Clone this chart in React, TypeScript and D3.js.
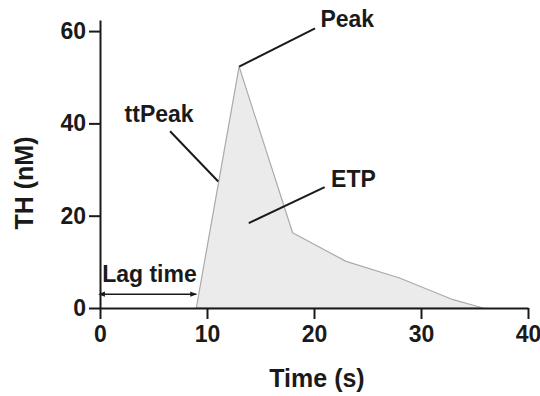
import { useEffect, useRef } from "react";
import * as d3 from "d3";

// thrombin generation curve
const timeS = [9, 13, 18, 23, 28, 33, 35.8];
const thNM = [0, 52.3, 16.3, 10.1, 6.5, 1.8, 0];
const xTicks = [0, 10, 20, 30, 40];
const yTicks = [0, 20, 40, 60];

// annotation anchors in data units: [label x, label y, line from, line to]
const annotations = [
  { text: "Peak", tx: 20.6, ty: 60.8, from: [20.1, 60.6], to: [13, 52.3] },
  { text: "ttPeak", tx: 2.3, ty: 40.3, from: [6.55, 38.3], to: [11.05, 27.4] },
  { text: "ETP", tx: 21.6, ty: 26.2, from: [21.0, 26.2], to: [13.9, 18.4] },
];

const FONT = "Liberation Sans, Arial, Helvetica, sans-serif";
const INK = "#1a1a1a";

export default function App() {
  const svgRef = useRef<SVGSVGElement>(null);

  useEffect(() => {
    if (!svgRef.current) return;
    const svg = d3.select(svgRef.current);
    svg.selectAll("*").remove();

    const x = d3.scaleLinear().domain([0, 40]).range([100, 528]);
    const y = d3.scaleLinear().domain([0, 62.4]).range([308, 20]);

    const defs = svg.append("defs");
    ["start", "end"].forEach((k) => {
      defs.append("marker")
        .attr("id", "arrow-" + k)
        .attr("viewBox", "0 0 10 10")
        .attr("refX", k === "end" ? 9 : 1)
        .attr("refY", 5)
        .attr("markerWidth", 4.5)
        .attr("markerHeight", 4.5)
        .attr("orient", "auto-start-reverse")
        .append("path")
        .attr("d", "M0,1 L10,5 L0,9 z")
        .attr("fill", INK);
    });

    // area under curve
    const pts = timeS.map((t, i) => [t, thNM[i]] as [number, number]);
    const area = d3.area<[number, number]>()
      .x((d) => x(d[0]))
      .y0(y(0))
      .y1((d) => y(d[1]));
    svg.append("path")
      .datum(pts)
      .attr("d", area)
      .attr("fill", "#ebebeb")
      .attr("stroke", "#aaaaaa")
      .attr("stroke-width", 1.2)
      .attr("stroke-linejoin", "round");

    // axes
    const styleAxis = (g: any) => {
      g.select(".domain").attr("stroke", INK).attr("stroke-width", 2);
      g.selectAll(".tick line").attr("stroke", INK).attr("stroke-width", 2);
      g.selectAll(".tick text")
        .attr("fill", INK)
        .attr("font-size", "23px")
        .attr("font-weight", "bold")
        .attr("font-family", FONT);
    };

    svg.append("g")
      .attr("transform", `translate(0,${y(0)})`)
      .call(d3.axisBottom(x).tickValues(xTicks).tickSize(11).tickSizeOuter(0).tickPadding(7).tickFormat(d3.format("d")))
      .call(styleAxis);

    svg.append("g")
      .attr("transform", `translate(${x(0)},0)`)
      .call(d3.axisLeft(y).tickValues(yTicks).tickSize(11).tickSizeOuter(0).tickPadding(3).tickFormat(d3.format("d")))
      .call(styleAxis);

    // annotations
    annotations.forEach((a) => {
      svg.append("line")
        .attr("x1", x(a.from[0])).attr("y1", y(a.from[1]))
        .attr("x2", x(a.to[0])).attr("y2", y(a.to[1]))
        .attr("stroke", INK)
        .attr("stroke-width", 2);
      svg.append("text")
        .attr("x", x(a.tx))
        .attr("y", y(a.ty))
        .attr("fill", INK)
        .attr("font-size", "23px")
        .attr("font-weight", "bold")
        .attr("font-family", FONT)
        .text(a.text);
    });

    // lag time arrow
    svg.append("line")
      .attr("x1", x(0.4)).attr("y1", y(3))
      .attr("x2", x(9)).attr("y2", y(3))
      .attr("stroke", INK)
      .attr("stroke-width", 1.5)
      .attr("marker-start", "url(#arrow-start)")
      .attr("marker-end", "url(#arrow-end)");
    svg.append("text")
      .attr("x", x(0.2))
      .attr("y", y(5.6))
      .attr("fill", INK)
      .attr("font-size", "23px")
      .attr("font-weight", "bold")
      .attr("font-family", FONT)
      .text("Lag time");

    // axis titles
    svg.append("text")
      .attr("x", 317)
      .attr("y", 387)
      .attr("text-anchor", "middle")
      .attr("fill", INK)
      .attr("font-size", "25px")
      .attr("font-weight", "bold")
      .attr("font-family", FONT)
      .text("Time (s)");

    svg.append("text")
      .attr("transform", "rotate(-90)")
      .attr("x", -183)
      .attr("y", 33)
      .attr("text-anchor", "middle")
      .attr("fill", INK)
      .attr("font-size", "25px")
      .attr("font-weight", "bold")
      .attr("font-family", FONT)
      .text("TH (nM)");
  }, []);

  return (
    <svg
      ref={svgRef}
      width={540}
      height={396}
      style={{ position: "absolute", left: 0, top: 0, background: "#fff" }}
    />
  );
}
